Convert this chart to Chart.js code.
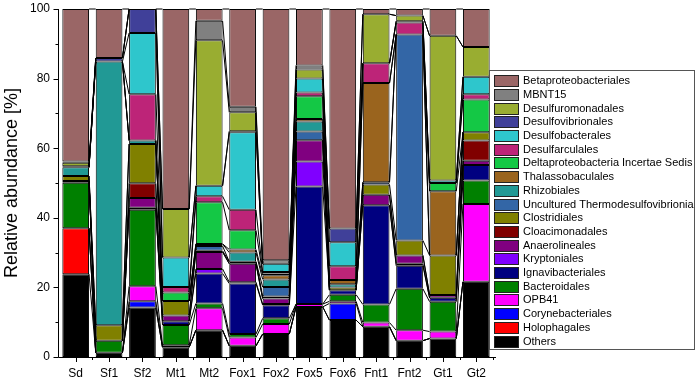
<!DOCTYPE html>
<html>
<head>
<meta charset="utf-8">
<script src="https://cdn.jsdelivr.net/npm/chart.js@4"></script>
<style>
  html, body { margin: 0; padding: 0; background: #fff; }
  #wrap { position: relative; width: 697px; height: 383px; }
</style>
</head>
<body>
<div id="wrap"><canvas id="grafico" width="697" height="383"></canvas></div>
<script>
// samples
var amostras = ['Sd', 'Sf1', 'Sf2', 'Mt1', 'Mt2', 'Fox1', 'Fox2', 'Fox5', 'Fox6', 'Fnt1', 'Fnt2', 'Gt1', 'Gt2'];

// relative abundance [%] per order, bottom of the stack first
var others              = [23.8, 1.2, 14.2, 2.8, 7.7, 3.2, 6.6, 14.4, 10.6, 8.7, 4.7, 5.3, 21.6];
var holophagales        = [13.2, 0, 0, 0, 0, 0, 0, 0, 0, 0, 0, 0, 0];
var corynebacteriales   = [0, 0, 1.8, 0, 0, 0, 0, 0, 4.8, 0, 0, 0, 0];
var opb41               = [0, 0, 4.3, 0.6, 6.3, 2.4, 2.9, 0.8, 0.6, 1.2, 3.0, 2.0, 22.4];
var bacteroidales       = [13.1, 3.5, 22.0, 5.8, 1.4, 1.0, 1.6, 0, 1.9, 5.2, 11.9, 8.6, 6.7];
var ignavibacteriales   = [0.5, 0, 0.6, 1.1, 8.6, 14.5, 3.8, 33.8, 1.3, 28.5, 6.6, 1.1, 4.5];
var kryptoniales        = [0, 0, 0, 0, 1.3, 0.4, 0.3, 7.2, 0, 0, 0.6, 0, 0];
var anaerolineales      = [0, 0, 2.8, 1.6, 4.9, 5.3, 1.6, 6.1, 0, 3.0, 2.4, 0.8, 1.2];
var cloacimonadales     = [0, 0, 4.2, 0, 0, 0, 0, 0, 0, 0, 0, 0, 5.8];
var clostridiales       = [1.4, 4.4, 11.3, 4.2, 0.3, 0.6, 0.6, 0, 0.8, 3.0, 4.3, 11.4, 2.4];
var uncThermo           = [0, 0, 0, 0, 1.4, 0, 2.7, 2.5, 0, 0.6, 59.2, 0, 0];
var rhizobiales         = [2.5, 75.8, 1.0, 0, 0.6, 2.6, 2.2, 2.9, 0.9, 0, 0, 0, 0];
var thalassobaculales   = [0, 0, 0, 0, 0, 0.9, 1.2, 0.7, 1.2, 28.5, 0, 18.4, 0];
var deltaIncertae       = [0, 0, 0, 2.4, 12.0, 5.5, 0.5, 6.5, 0, 0, 0, 2.4, 9.4];
var desulfarculales     = [0, 0, 13.3, 1.6, 1.7, 5.9, 0.4, 1.1, 4.0, 5.7, 3.4, 0, 1.5];
var desulfobacterales   = [0.3, 0, 17.6, 8.5, 3.0, 22.3, 2.4, 4.0, 6.9, 0, 0.4, 0.7, 5.0];
var desulfovibrionales  = [0, 1.0, 6.9, 0, 0, 0.3, 0, 0, 3.9, 0, 0, 0, 0];
var desulfuromonadales  = [1.0, 0, 0, 13.9, 41.8, 5.4, 0, 2.6, 0, 14.1, 1.6, 41.6, 8.6];
var mbnt15              = [0.4, 0, 0, 0, 5.6, 1.6, 1.0, 1.2, 0, 0, 0, 0, 0];
var betaproteobacteriales = [43.8, 14.1, 0, 57.5, 3.4, 28.1, 72.2, 16.2, 63.1, 1.5, 1.9, 7.7, 10.9];

var yTicks = [0, 20, 40, 60, 80, 100];

var series = [
  ['Others', others, '#000000'],
  ['Holophagales', holophagales, '#ff0000'],
  ['Corynebacteriales', corynebacteriales, '#0000ff'],
  ['OPB41', opb41, '#ff00ff'],
  ['Bacteroidales', bacteroidales, '#008000'],
  ['Ignavibacteriales', ignavibacteriales, '#000080'],
  ['Kryptoniales', kryptoniales, '#8000ff'],
  ['Anaerolineales', anaerolineales, '#800080'],
  ['Cloacimonadales', cloacimonadales, '#800000'],
  ['Clostridiales', clostridiales, '#808000'],
  ['Uncultured Thermodesulfovibrionia', uncThermo, '#3366a6'],
  ['Rhizobiales', rhizobiales, '#219995'],
  ['Thalassobaculales', thalassobaculales, '#9a641e'],
  ['Deltaproteobacteria Incertae Sedis', deltaIncertae, '#14c845'],
  ['Desulfarculales', desulfarculales, '#bd2478'],
  ['Desulfobacterales', desulfobacterales, '#2ec6cc'],
  ['Desulfovibrionales', desulfovibrionales, '#404099'],
  ['Desulfuromonadales', desulfuromonadales, '#99ad31'],
  ['MBNT15', mbnt15, '#808080'],
  ['Betaproteobacteriales', betaproteobacteriales, '#9a6666']
];

var fonte = 'Arial, "Liberation Sans", sans-serif';

// lines joining the top of each layer from one column to the next
var linhasLigacao = {
  id: 'linhasLigacao',
  afterDatasetsDraw: function(chart) {
    var ctx = chart.ctx;
    ctx.save();
    ctx.strokeStyle = '#000';
    ctx.lineWidth = 1;
    chart.data.datasets.forEach(function(ds, d) {
      var meta = chart.getDatasetMeta(d);
      for (var i = 0; i < meta.data.length - 1; i++) {
        var a = meta.data[i], b = meta.data[i + 1];
        ctx.beginPath();
        ctx.moveTo(a.x + a.width / 2, a.y);
        ctx.lineTo(b.x - b.width / 2, b.y);
        ctx.stroke();
      }
    });
    ctx.restore();
  }
};

// tick marks (major + minor) and axis lines
var eixos = {
  id: 'eixos',
  afterDraw: function(chart) {
    var ctx = chart.ctx, xs = chart.scales.x, ys = chart.scales.y, area = chart.chartArea;
    ctx.save();
    ctx.strokeStyle = '#000';
    ctx.lineWidth = 1;
    ctx.beginPath();
    ctx.moveTo(area.left - 0.5, area.top);
    ctx.lineTo(area.left - 0.5, area.bottom + 0.5);
    ctx.lineTo(area.right + 3, area.bottom + 0.5);
    for (var v = 0; v <= 100; v += 10) {
      var py = Math.round(ys.getPixelForValue(v)) + 0.5;
      var len = (v % 20 === 0) ? 5 : 3;
      ctx.moveTo(area.left - 0.5, py);
      ctx.lineTo(area.left - 0.5 - len, py);
    }
    var n = amostras.length;
    for (var i = 0; i < n; i++) {
      var cx = Math.round(xs.getPixelForValue(i)) + 0.5;
      ctx.moveTo(cx, area.bottom);
      ctx.lineTo(cx, area.bottom + 5);
      var half = (xs.getPixelForValue(1) - xs.getPixelForValue(0)) / 2;
      var bx = Math.round(xs.getPixelForValue(i) + half) + 0.5;
      ctx.moveTo(bx, area.bottom);
      ctx.lineTo(bx, area.bottom + 3);
    }
    ctx.stroke();
    ctx.restore();
  }
};

// legend box at the right
var legenda = {
  id: 'legenda',
  afterDraw: function(chart) {
    var ctx = chart.ctx;
    var x0 = 489.5, y0 = 70.5, w = 205, h = 279;
    ctx.save();
    ctx.fillStyle = '#fff';
    ctx.fillRect(x0, y0, w, h);
    ctx.strokeStyle = '#555';
    ctx.lineWidth = 1;
    ctx.strokeRect(x0, y0, w, h);
    ctx.font = '11px ' + fonte;
    ctx.textBaseline = 'middle';
    var itens = chart.data.datasets.slice().reverse();
    itens.forEach(function(ds, k) {
      var cy = 80.7 + k * 13.7;
      ctx.fillStyle = ds.backgroundColor;
      ctx.fillRect(494.5, Math.round(cy - 5.5) + 0.5, 24, 11);
      ctx.strokeStyle = '#222';
      ctx.strokeRect(494.5, Math.round(cy - 5.5) + 0.5, 24, 11);
      ctx.fillStyle = '#000';
      ctx.fillText(ds.label, 523, cy + 0.5);
    });
    ctx.restore();
  }
};

var ctx = document.getElementById('grafico').getContext('2d');
var grafico = new Chart(ctx, {
  type: 'bar',
  data: {
    labels: amostras,
    datasets: series.map(function(s) {
      return {
        label: s[0],
        data: s[1],
        backgroundColor: s[2],
        borderColor: '#000',
        borderWidth: 1,
        borderSkipped: false,
        barPercentage: 0.8,
        categoryPercentage: 1.0
      };
    })
  },
  options: {
    responsive: false,
    animation: false,
    layout: { padding: { top: 9, right: 204, left: 0, bottom: 0 } },
    plugins: {
      legend: { display: false },
      tooltip: { enabled: false }
    },
    scales: {
      x: {
        stacked: true,
        grid: { display: false, drawTicks: false },
        border: { display: false },
        ticks: { color: '#000', font: { size: 12, family: fonte }, padding: 9, maxRotation: 0 },
        afterFit: function(s) { s.height = 26; s.paddingLeft = 0; s.paddingRight = 0; }
      },
      y: {
        stacked: true,
        min: 0,
        max: 100,
        afterBuildTicks: function(s) { s.ticks = yTicks.map(function(v) { return { value: v }; }); },
        grid: { display: false, drawTicks: false },
        border: { display: false },
        ticks: { color: '#000', font: { size: 12, family: fonte }, padding: 9 },
        title: {
          display: true,
          text: 'Relative abundance [%]',
          color: '#000',
          font: { size: 18, family: fonte },
          padding: { top: 1, bottom: 0 }
        },
        afterFit: function(s) { s.width = 59; s.paddingTop = 0; s.paddingBottom = 0; }
      }
    }
  },
  plugins: [linhasLigacao, eixos, legenda]
});
</script>
</body>
</html>
